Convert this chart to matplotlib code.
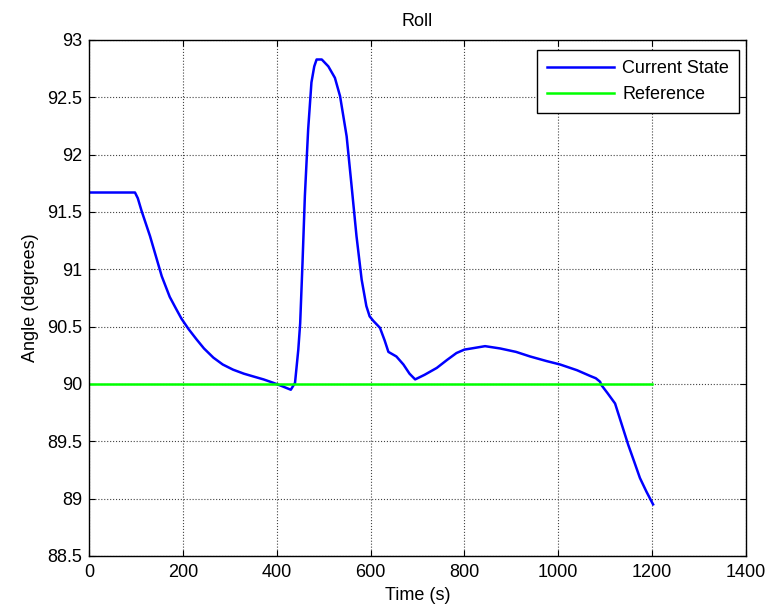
import matplotlib
matplotlib.use('Agg')
import matplotlib.pyplot as plt

plt.rcParams['font.family'] = ['Liberation Sans', 'DejaVu Sans']

# current state (time in s, angle in degrees)
time_s = [0, 98, 104, 112, 130, 145, 155, 172, 185, 197, 212, 229, 245,
          265, 285, 307, 330, 350, 372, 393, 412, 430,
          439, 446, 450, 455, 460, 467, 474, 480, 485, 496, 510, 524, 535,
          549, 559, 570, 581, 591, 598, 606, 620, 630, 638, 655, 670, 683,
          695, 715, 741, 763, 783, 800, 815, 844, 876, 910, 940, 975, 1004,
          1040, 1068, 1080, 1089, 1092, 1105, 1121, 1135, 1149, 1162, 1174,
          1188, 1202]
angle = [91.67, 91.67, 91.62, 91.51, 91.29, 91.08, 90.94, 90.76, 90.66,
         90.57, 90.48, 90.39, 90.31, 90.23, 90.17, 90.125, 90.09, 90.066,
         90.04, 90.01, 89.98, 89.95, 90.01, 90.30, 90.53, 91.06, 91.64,
         92.22, 92.63, 92.77, 92.83, 92.83, 92.77, 92.67, 92.51, 92.16,
         91.75, 91.29, 90.91, 90.68, 90.59, 90.55, 90.49, 90.38, 90.28,
         90.24, 90.17, 90.09, 90.04, 90.08, 90.14, 90.21, 90.27, 90.30,
         90.31, 90.33, 90.31, 90.28, 90.24, 90.20, 90.17, 90.12, 90.07,
         90.05, 90.02, 89.99, 89.92, 89.83, 89.65, 89.47, 89.32, 89.18,
         89.06, 88.95]

ref_time = [0, 1200]
ref_angle = [90, 90]

fig = plt.figure(figsize=(7.71, 6.15), dpi=100)
ax = fig.add_axes([89 / 771, 59 / 615, 657 / 771, 516 / 615])

ax.plot(time_s, angle, color=(0, 0, 1), lw=1.8, label='Current State')
ax.plot(ref_time, ref_angle, color=(0, 1, 0), lw=1.8, label='Reference')

ax.set_xlim(0, 1400)
ax.set_ylim(88.5, 93)
ax.set_xticks(range(0, 1401, 200))
ax.set_yticks([88.5, 89, 89.5, 90, 90.5, 91, 91.5, 92, 92.5, 93])
ax.set_yticklabels(['88.5', '89', '89.5', '90', '90.5', '91', '91.5', '92', '92.5', '93'])
ax.tick_params(direction='in', top=True, right=True, labelsize=13, length=4)
ax.tick_params(axis='x', pad=6)
ax.tick_params(axis='y', pad=5)
ax.grid(True, color='#444444', linestyle=':', linewidth=0.8)
for s in ax.spines.values():
    s.set_linewidth(1.0)

ax.set_title('Roll', fontsize=13, pad=10)
ax.set_xlabel('Time (s)', fontsize=13, labelpad=4)
ax.set_ylabel('Angle (degrees)', fontsize=13, labelpad=6)

leg = ax.legend(loc='upper right', bbox_to_anchor=(650 / 657, 506 / 516),
                borderaxespad=0, fontsize=13, fancybox=False, framealpha=1,
                edgecolor='black', handlelength=3.7, handletextpad=0.45,
                labelspacing=0.5, borderpad=0.55)
leg.get_frame().set_linewidth(1.0)

fig.savefig('out.png', dpi=100)
